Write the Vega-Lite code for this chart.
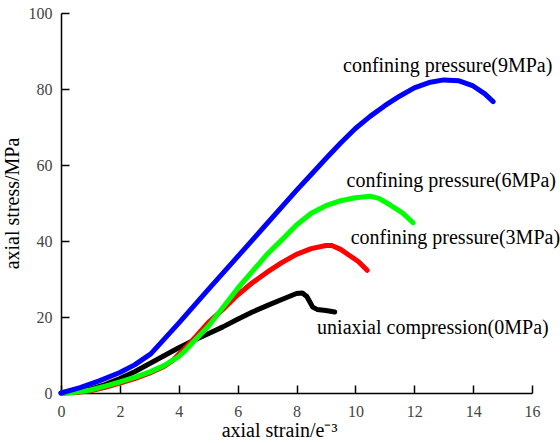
{
  "$schema": "https://vega.github.io/schema/vega-lite/v6.json",
  "width": 471,
  "height": 380,
  "autosize": {"type": "none"},
  "padding": {"left": 61, "top": 13, "right": 28, "bottom": 50},
  "background": "white",
  "config": {
    "view": {"stroke": null},
    "font": "Liberation Serif, Times New Roman, serif",
    "axis": {
      "grid": false,
      "domainColor": "black",
      "domainWidth": 1.5,
      "tickColor": "black",
      "tickWidth": 1.5,
      "labelFont": "Liberation Serif, Times New Roman, serif",
      "labelFontSize": 16,
      "labelColor": "#444",
      "labelFlush": false,
      "titleFont": "Liberation Serif, Times New Roman, serif",
      "titleFontSize": 20,
      "titleFontWeight": "normal",
      "titleColor": "black"
    }
  },
  "datasets": {
    "curves": [
      {"series": "0MPa", "x": 0, "y": 0},
      {"series": "0MPa", "x": 0.5, "y": 0.2},
      {"series": "0MPa", "x": 1, "y": 1.0},
      {"series": "0MPa", "x": 1.5, "y": 2.2},
      {"series": "0MPa", "x": 2, "y": 3.8},
      {"series": "0MPa", "x": 2.5, "y": 5.6},
      {"series": "0MPa", "x": 3, "y": 7.7},
      {"series": "0MPa", "x": 3.5, "y": 9.8},
      {"series": "0MPa", "x": 4, "y": 11.9},
      {"series": "0MPa", "x": 4.5, "y": 13.8},
      {"series": "0MPa", "x": 5, "y": 15.6},
      {"series": "0MPa", "x": 5.5, "y": 17.4},
      {"series": "0MPa", "x": 6, "y": 19.4},
      {"series": "0MPa", "x": 6.5, "y": 21.3},
      {"series": "0MPa", "x": 7, "y": 23.0},
      {"series": "0MPa", "x": 7.5, "y": 24.6},
      {"series": "0MPa", "x": 8, "y": 26.2},
      {"series": "0MPa", "x": 8.2, "y": 26.3},
      {"series": "0MPa", "x": 8.35, "y": 25.4},
      {"series": "0MPa", "x": 8.45, "y": 24.0},
      {"series": "0MPa", "x": 8.55, "y": 22.6},
      {"series": "0MPa", "x": 8.7, "y": 22.0},
      {"series": "0MPa", "x": 9, "y": 21.7},
      {"series": "0MPa", "x": 9.3, "y": 21.3},
      {"series": "3MPa", "x": 0, "y": 0},
      {"series": "3MPa", "x": 0.5, "y": 0.1},
      {"series": "3MPa", "x": 1, "y": 0.6},
      {"series": "3MPa", "x": 1.5, "y": 1.5},
      {"series": "3MPa", "x": 2, "y": 2.6},
      {"series": "3MPa", "x": 2.5, "y": 3.8},
      {"series": "3MPa", "x": 3, "y": 5.2},
      {"series": "3MPa", "x": 3.5, "y": 7.0},
      {"series": "3MPa", "x": 3.8, "y": 8.6},
      {"series": "3MPa", "x": 4, "y": 10.2},
      {"series": "3MPa", "x": 4.3, "y": 12.5},
      {"series": "3MPa", "x": 4.6, "y": 15.0},
      {"series": "3MPa", "x": 5, "y": 18.5},
      {"series": "3MPa", "x": 5.5, "y": 22.0},
      {"series": "3MPa", "x": 6, "y": 25.8},
      {"series": "3MPa", "x": 6.5, "y": 29.0},
      {"series": "3MPa", "x": 7, "y": 31.8},
      {"series": "3MPa", "x": 7.5, "y": 34.3},
      {"series": "3MPa", "x": 8, "y": 36.5},
      {"series": "3MPa", "x": 8.5, "y": 38.0},
      {"series": "3MPa", "x": 9, "y": 38.8},
      {"series": "3MPa", "x": 9.2, "y": 38.8},
      {"series": "3MPa", "x": 9.5, "y": 37.8},
      {"series": "3MPa", "x": 9.8, "y": 36.2},
      {"series": "3MPa", "x": 10.1, "y": 34.6},
      {"series": "3MPa", "x": 10.4, "y": 32.3},
      {"series": "6MPa", "x": 0, "y": 0},
      {"series": "6MPa", "x": 0.5, "y": 0.2},
      {"series": "6MPa", "x": 1, "y": 0.8},
      {"series": "6MPa", "x": 1.5, "y": 1.8},
      {"series": "6MPa", "x": 2, "y": 2.9},
      {"series": "6MPa", "x": 2.5, "y": 4.1},
      {"series": "6MPa", "x": 3, "y": 5.5},
      {"series": "6MPa", "x": 3.5, "y": 7.2},
      {"series": "6MPa", "x": 4, "y": 9.6},
      {"series": "6MPa", "x": 4.2, "y": 11.0},
      {"series": "6MPa", "x": 4.5, "y": 13.5},
      {"series": "6MPa", "x": 5, "y": 17.5},
      {"series": "6MPa", "x": 5.5, "y": 22.5},
      {"series": "6MPa", "x": 6, "y": 27.5},
      {"series": "6MPa", "x": 6.5, "y": 32.0},
      {"series": "6MPa", "x": 7, "y": 36.5},
      {"series": "6MPa", "x": 7.5, "y": 40.3},
      {"series": "6MPa", "x": 8, "y": 44.2},
      {"series": "6MPa", "x": 8.5, "y": 47.3},
      {"series": "6MPa", "x": 9, "y": 49.3},
      {"series": "6MPa", "x": 9.5, "y": 50.6},
      {"series": "6MPa", "x": 10, "y": 51.4},
      {"series": "6MPa", "x": 10.5, "y": 51.8},
      {"series": "6MPa", "x": 10.8, "y": 51.2},
      {"series": "6MPa", "x": 11.2, "y": 49.4},
      {"series": "6MPa", "x": 11.6, "y": 47.4},
      {"series": "6MPa", "x": 11.96, "y": 44.8},
      {"series": "9MPa", "x": 0, "y": 0},
      {"series": "9MPa", "x": 0.65, "y": 1.4},
      {"series": "9MPa", "x": 1.3, "y": 3.2},
      {"series": "9MPa", "x": 2, "y": 5.4},
      {"series": "9MPa", "x": 2.5, "y": 7.4},
      {"series": "9MPa", "x": 3.05, "y": 10.3},
      {"series": "9MPa", "x": 4, "y": 18.4},
      {"series": "9MPa", "x": 5, "y": 27.2},
      {"series": "9MPa", "x": 6, "y": 35.9},
      {"series": "9MPa", "x": 7, "y": 44.6},
      {"series": "9MPa", "x": 8, "y": 53.3},
      {"series": "9MPa", "x": 8.5, "y": 57.5},
      {"series": "9MPa", "x": 9, "y": 61.7},
      {"series": "9MPa", "x": 9.5, "y": 65.8},
      {"series": "9MPa", "x": 10, "y": 69.6},
      {"series": "9MPa", "x": 10.5, "y": 72.8},
      {"series": "9MPa", "x": 11, "y": 75.6},
      {"series": "9MPa", "x": 11.5, "y": 78.1},
      {"series": "9MPa", "x": 12, "y": 80.3},
      {"series": "9MPa", "x": 12.5, "y": 81.7},
      {"series": "9MPa", "x": 13, "y": 82.4},
      {"series": "9MPa", "x": 13.5, "y": 82.2},
      {"series": "9MPa", "x": 14, "y": 80.8},
      {"series": "9MPa", "x": 14.4, "y": 78.7},
      {"series": "9MPa", "x": 14.68, "y": 76.7}
    ],
    "labels": [
      {"label": "confining pressure(9MPa)", "x": 9.58, "y": 84.5},
      {"label": "confining pressure(6MPa)", "x": 9.7, "y": 54.3},
      {"label": "confining pressure(3MPa)", "x": 9.84, "y": 39.1},
      {"label": "uniaxial compression(0MPa)", "x": 8.7, "y": 15.5}
    ]
  },
  "layer": [
    {
      "data": {"name": "curves"},
      "mark": {"type": "line", "strokeWidth": 5, "strokeCap": "round", "strokeJoin": "round"},
      "encoding": {
        "x": {
          "field": "x", "type": "quantitative",
          "scale": {"domain": [0, 16], "nice": false},
          "axis": {
            "values": [0,1,2,3,4,5,6,7,8,9,10,11,12,13,14,15,16],
            "labelExpr": "datum.value % 2 === 0 ? datum.label : ''",
            "tickSize": {"condition": {"test": "datum.value % 2 === 1", "value": -5}, "value": -8},
            "labelPadding": 18,
            "title": "axial strain/e⁻³",
            "titleX": 218,
            "titleY": 43,
            "titleBaseline": "alphabetic",
            "titleAnchor": "middle"
          }
        },
        "y": {
          "field": "y", "type": "quantitative",
          "scale": {"domain": [0, 100], "nice": false},
          "axis": {
            "values": [0,10,20,30,40,50,60,70,80,90,100],
            "labelExpr": "datum.value % 20 === 0 ? datum.label : ''",
            "tickSize": {"condition": {"test": "datum.value % 20 === 10", "value": -5}, "value": -8},
            "labelPadding": 17,
            "title": "axial stress/MPa",
            "titleX": -49,
            "titleY": 190,
            "titleBaseline": "middle",
            "titleAnchor": "middle"
          }
        },
        "color": {
          "field": "series", "type": "nominal",
          "scale": {"domain": ["0MPa", "3MPa", "6MPa", "9MPa"], "range": ["#000000", "#ff0000", "#00ff00", "#0000ff"]},
          "legend": null
        },
        "order": {"field": "x", "type": "quantitative"}
      }
    },
    {
      "data": {"name": "labels"},
      "mark": {"type": "text", "align": "left", "baseline": "alphabetic", "fontSize": 20, "font": "Liberation Serif, Times New Roman, serif", "color": "black"},
      "encoding": {
        "x": {"field": "x", "type": "quantitative"},
        "y": {"field": "y", "type": "quantitative"},
        "text": {"field": "label", "type": "nominal"}
      }
    }
  ]
}
